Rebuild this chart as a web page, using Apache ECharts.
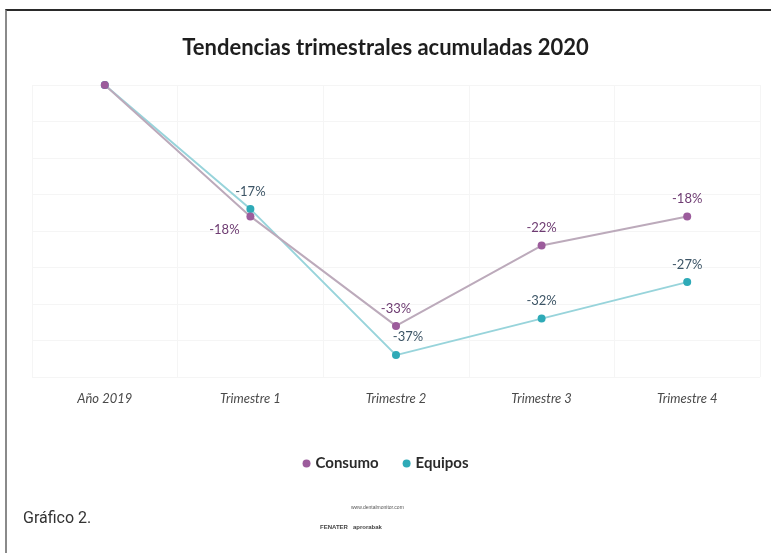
<!DOCTYPE html>
<html>
<head>
<meta charset="utf-8">
<script src="https://cdn.jsdelivr.net/npm/echarts@6/dist/echarts.min.js"></script>
<style>
    html, body { margin: 0; padding: 0; background: #fff; }
    #frame {
        position: absolute; left: 5px; top: 9px; width: 766px; height: 544px;
        border-top: 2px solid #2a2a2a; border-left: 2px solid #8a8a8a;
    }
    #chart { position: absolute; left: 0; top: 0; width: 771px; height: 553px; }
</style>
</head>
<body>
<div id="frame"></div>
<div id="chart"></div>
<script>
var trimestres = ['Año 2019', 'Trimestre 1', 'Trimestre 2', 'Trimestre 3', 'Trimestre 4'];
var consumo = [0, -18, -33, -22, -18];
var equipos = [0, -17, -37, -32, -27];

(function(){
    var chart = echarts.init(document.getElementById('chart'));

    // la primera no lleva etiqueta; algunas se mueven para no chocar
    var consumoData = consumo.map(function (v, i) {
        var d = {value: v};
        if (i === 0) {
            d.label = {show: false};
        } else if (i === 1) {
            d.label = {position: 'bottom', offset: [-26, -4]};
        }
        return d;
    });
    var equiposData = equipos.map(function (v, i) {
        var d = {value: v};
        if (i === 0) {
            d.label = {show: false};
        } else if (i === 2) {
            d.label = {position: 'top', offset: [12, -1]};
        }
        return d;
    });

    var option = {
        backgroundColor: 'transparent',
        title: {
            text: 'Tendencias trimestrales acumuladas 2020',
            left: 'center',
            top: 32,
            textStyle: {
                fontFamily: 'Lato',
                fontSize: 22,
                fontWeight: 'bold',
                color: '#1e1e1e'
            }
        },
        legend: {
            data: ['Consumo', 'Equipos'],
            left: 'center',
            top: 451,
            icon: 'circle',
            itemWidth: 8,
            itemHeight: 8,
            itemGap: 24,
            textStyle: {
                fontFamily: 'Lato',
                fontSize: 15,
                fontWeight: 'bold',
                color: '#2a2a2a'
            }
        },
        grid: {
            left: 32,
            right: 11,
            top: 85,
            bottom: 176
        },
        xAxis: {
            type: 'category',
            data: trimestres,
            axisLine: {show: false},
            axisTick: {show: false},
            splitLine: {show: true, lineStyle: {color: '#f5f5f5'}},
            axisLabel: {
                margin: 15,
                fontFamily: 'Lato',
                fontStyle: 'italic',
                fontSize: 13,
                color: '#4a4a4a'
            }
        },
        yAxis: {
            type: 'value',
            min: -40,
            max: 0,
            interval: 5,
            axisLabel: {show: false},
            axisLine: {show: false},
            axisTick: {show: false},
            splitLine: {lineStyle: {color: '#f5f5f5'}}
        },
        series: [
            {
                name: 'Equipos',
                type: 'line',
                data: equiposData,
                symbol: 'circle',
                symbolSize: 8,
                lineStyle: {color: '#98d4db', width: 2},
                itemStyle: {color: '#2eaab7'},
                label: {
                    show: true,
                    position: 'top',
                    distance: 7,
                    formatter: '{c}%',
                    fontFamily: 'Lato',
                    fontSize: 13,
                    color: '#3d5566'
                }
            },
            {
                name: 'Consumo',
                type: 'line',
                data: consumoData,
                symbol: 'circle',
                symbolSize: 8,
                lineStyle: {color: '#bcaabb', width: 2},
                itemStyle: {color: '#9c5c9c'},
                label: {
                    show: true,
                    position: 'top',
                    distance: 7,
                    formatter: '{c}%',
                    fontFamily: 'Lato',
                    fontSize: 13,
                    color: '#6e3c72'
                }
            }
        ],
        graphic: [
            {
                type: 'text',
                left: 23,
                top: 511,
                style: {
                    text: 'Gráfico 2.',
                    font: '16px Roboto',
                    fill: '#333'
                }
            },
            {
                type: 'text',
                left: 351,
                top: 505,
                style: {
                    text: 'www.dentalmonitor.com',
                    font: '5px "Liberation Sans"',
                    fill: '#555'
                }
            },
            {
                type: 'text',
                left: 320,
                top: 524,
                style: {
                    text: 'FENATER   aprorabak',
                    font: 'bold 6px "Liberation Sans"',
                    fill: '#444'
                }
            }
        ]
    };

    chart.setOption(option);
})();
</script>
</body>
</html>
